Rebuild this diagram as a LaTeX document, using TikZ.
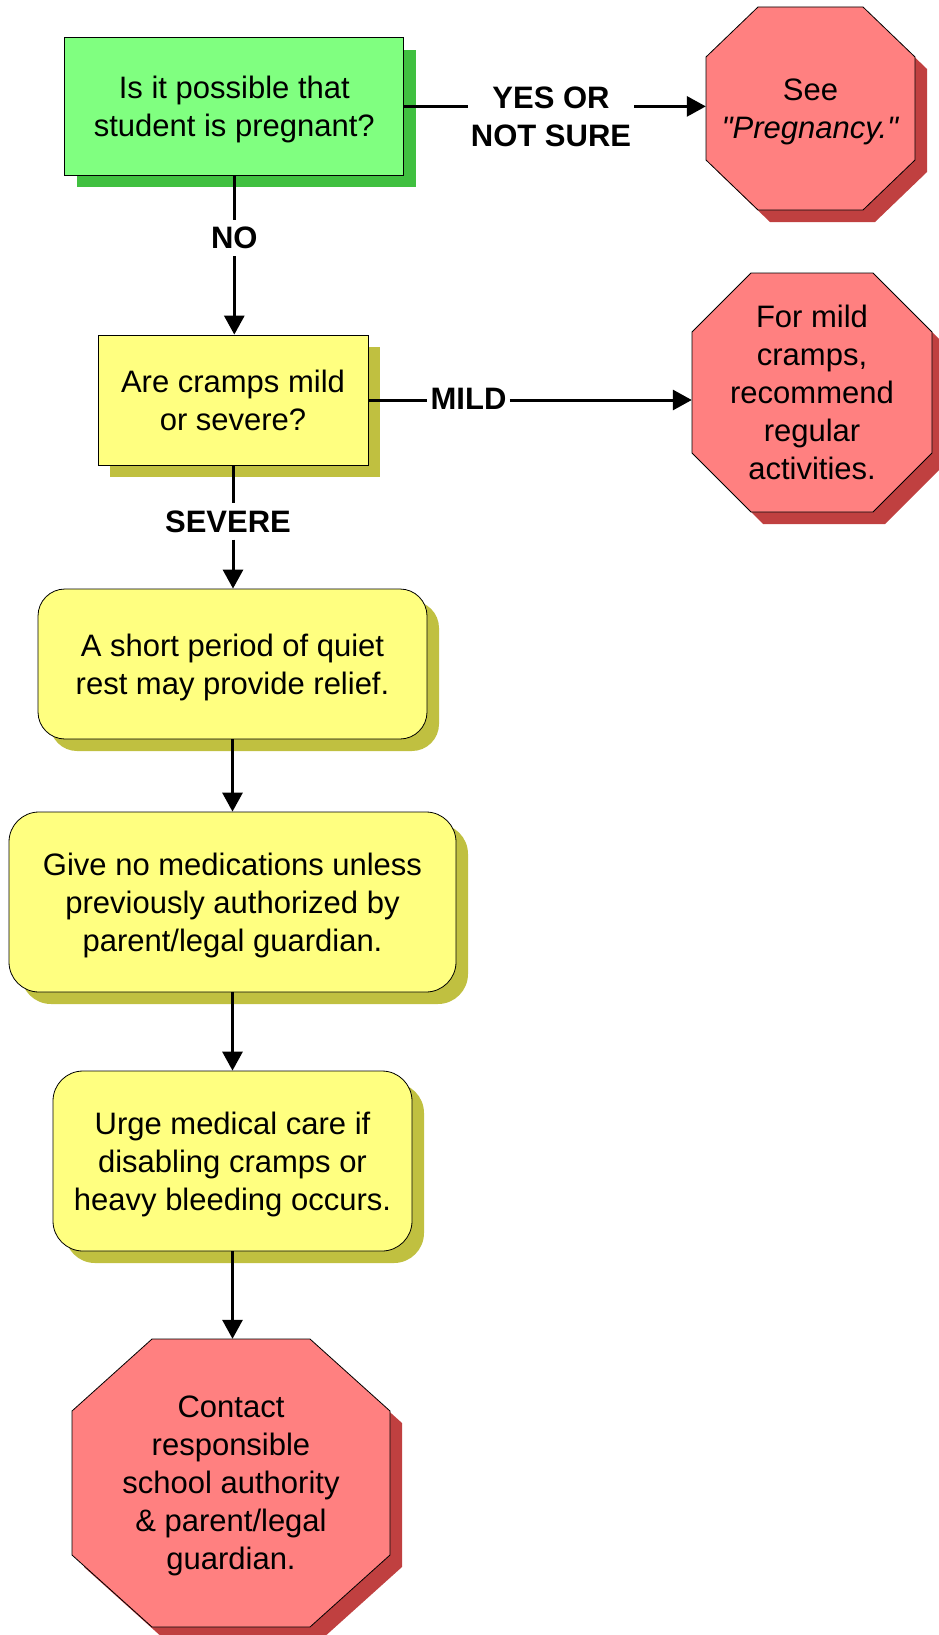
\documentclass[tikz,border=0pt]{standalone}
\usepackage{fontspec}
\setmainfont{Liberation Sans}[Ligatures=TeXOff]
\usetikzlibrary{shadows,arrows.meta}
\definecolor{gfill}{HTML}{80FF80}
\definecolor{gshad}{HTML}{40C040}
\definecolor{yfill}{HTML}{FFFF80}
\definecolor{yshad}{HTML}{C0C040}
\definecolor{rfill}{HTML}{FF8080}
\definecolor{rshad}{HTML}{C04040}
\newcommand{\nd}[1]{\raisebox{0pt}[\height][0pt]{#1}}
\begin{document}
\begin{tikzpicture}[x=1pt,y=-1pt,
  every node/.style={font=\fontsize{31}{38}\selectfont, align=center, inner sep=0pt, text=black},
  box/.style={draw=black, line width=0.8pt},
  shad/.style={general shadow={fill=#1, shadow xshift=12pt, shadow yshift=-12pt}},
  gbox/.style={box, fill=gfill, shad=gshad},
  ybox/.style={box, fill=yfill, shad=yshad},
  yround/.style={ybox, rounded corners=#1},
  oct/.style={box, fill=rfill, shad=rshad},
  octtext/.style={shape=rectangle},
  lbl/.style={font=\fontsize{31}{38}\selectfont\bfseries, inner xsep=3pt, inner ysep=7pt},
  conn/.style={line width=3pt},
  arr/.style={conn, -{Triangle[length=19pt,width=20pt]}}
]
\useasboundingbox (0,0) rectangle (939,1635);

% octagon shapes
\draw[oct] (758,7) -- (863,7) -- (915,57) -- (915,160) -- (863,210) -- (758,210) -- (706,160) -- (706,57) -- cycle;
\draw[oct] (751,273) -- (873,273) -- (932,332) -- (932,453) -- (873,512) -- (751,512) -- (692,453) -- (692,332) -- cycle;
\draw[oct] (152,1339) -- (310,1339) -- (390,1411) -- (390,1555) -- (310,1627) -- (152,1627) -- (72,1555) -- (72,1411) -- cycle;

% boxes
\node[gbox, minimum width=339pt, minimum height=137pt] (b1) at (234.3,106.4)
  {Is it possible that\\\nd{student is pregnant?}};
\node[octtext, minimum width=209pt, minimum height=203pt] (o1) at (810.5,108.5)
  {See\\\nd{\textit{"Pregnancy."}}};
\node[ybox, minimum width=270pt, minimum height=130pt] (b2) at (233,400)
  {Are cramps mild\\\nd{or severe?}};
\node[octtext, minimum width=240pt, minimum height=239pt] (o2) at (812,392.5)
  {For mild\\cramps,\\recommend\\regular\\\nd{activities.}};
\node[yround=27pt, minimum width=389pt, minimum height=150pt] (b3) at (232.5,664)
  {A short period of quiet\\\nd{rest may provide relief.}};
\node[yround=30pt, minimum width=447pt, minimum height=180pt] (b4) at (232.5,902)
  {Give no medications unless\\previously authorized by\\\nd{parent/legal guardian.}};
\node[yround=30pt, minimum width=359pt, minimum height=180pt] (b5) at (232.5,1161)
  {Urge medical care if\\disabling cramps or\\\nd{heavy bleeding occurs.}};
\node[octtext, minimum width=318pt, minimum height=288pt] (o3) at (231,1483)
  {Contact\\responsible\\school authority\\\& parent/legal\\\nd{guardian.}};

% labels
\node[lbl] (yes) at (551,116.5) {YES OR\\NOT SURE};
\node[lbl] (no) at (234.3,238) {NO};
\node[lbl] (mild) at (468.5,399) {MILD};
\node[lbl] (sev) at (228,521.5) {SEVERE};

% connectors
\draw[conn] (b1.east) -- (yes.west |- b1.east);
\draw[arr] (yes.east |- b1.east) -- (o1.west |- b1.east);
\draw[conn] (b1.south) -- (no.north);
\draw[arr] (no.south) -- (no.south |- b2.north);
\draw[conn] (b2.east) -- (mild.west |- b2.east);
\draw[arr] (mild.east |- b2.east) -- (o2.west |- b2.east);
\draw[conn] (b2.south) -- (b2.south |- sev.north);
\draw[arr] (b2.south |- sev.south) -- (b2.south |- b3.north);
\draw[arr] (b3.south) -- (b4.north);
\draw[arr] (b4.south) -- (b5.north);
\draw[arr] (b5.south) -- (b5.south |- o3.north);
\end{tikzpicture}
\end{document}
